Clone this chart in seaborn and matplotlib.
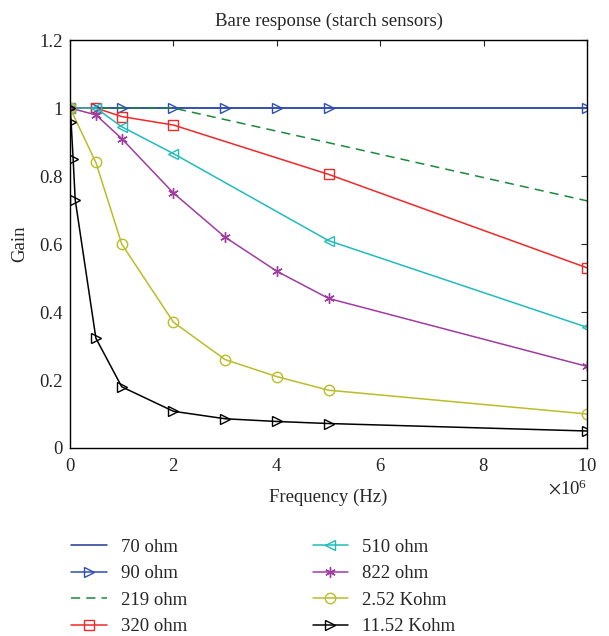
import numpy as np
import pandas as pd
import seaborn as sns
import matplotlib.pyplot as plt

# series values (frequency in Hz, gain)
f_70 = [0, 5e5, 1e6, 2e6, 3e6, 4e6, 5e6, 1e7]
g_70 = [1, 1, 1, 1, 1, 1, 1, 1]
f_90 = [0, 5e5, 1e6, 2e6, 3e6, 4e6, 5e6, 1e7]
g_90 = [1, 1, 1, 1, 1, 1, 1, 1]
f_219 = [0, 5e5, 1e6, 2e6, 3e6, 4e6, 5e6, 1e7]
g_219 = [1, 1, 1, 1, 0.966, 0.932, 0.898, 0.727]
f_320 = [0, 5e5, 1e6, 2e6, 5e6, 1e7]
g_320 = [1, 1, 0.975, 0.95, 0.805, 0.53]
f_510 = [0, 5e5, 1e6, 2e6, 5e6, 1e7]
g_510 = [1, 1, 0.945, 0.866, 0.61, 0.355]
f_822 = [0, 5e5, 1e6, 2e6, 3e6, 4e6, 5e6, 1e7]
g_822 = [1, 0.98, 0.91, 0.75, 0.62, 0.52, 0.44, 0.24]
f_252k = [0, 5e5, 1e6, 2e6, 3e6, 4e6, 5e6, 1e7]
g_252k = [1, 0.84, 0.60, 0.37, 0.26, 0.21, 0.17, 0.10]
f_1152k = [0, 2e4, 6e4, 1e5, 5e5, 1e6, 2e6, 3e6, 4e6, 5e6, 1e7]
g_1152k = [1, 0.96, 0.85, 0.73, 0.323, 0.18, 0.108, 0.086, 0.078, 0.072, 0.05]

labels = ["70 ohm", "90 ohm", "219 ohm", "320 ohm", "510 ohm", "822 ohm", "2.52 Kohm", "11.52 Kohm"]
freqs = [f_70, f_90, f_219, f_320, f_510, f_822, f_252k, f_1152k]
gains = [g_70, g_90, g_219, g_320, g_510, g_822, g_252k, g_1152k]

colors = ["#1f3a93", "#2f4fb0", "#1a8a3a", "#f02828", "#20bcbc", "#a03ca0", "#bcbc28", "#000000"]
markers = [None, ">", None, "s", "<", (6, 2, 0), "o", ">"]
styles = ["-", "-", (0, (6, 4)), "-", "-", "-", "-", "-"]

sns.set_style("white")
plt.rcParams["font.family"] = ["Liberation Serif", "DejaVu Serif"]
plt.rcParams["mathtext.fontset"] = "stix"

fig = plt.figure(figsize=(6.09, 6.36), dpi=100)
ax = fig.add_axes([0.115, 0.2956, 0.849, 0.6414])

for lab, fr, gn, c, m, ls in zip(labels, freqs, gains, colors, markers, styles):
    df = pd.DataFrame({"f": fr, "g": gn})
    sns.lineplot(data=df, x="f", y="g", ax=ax, color=c, marker=m, linestyle=ls,
                 markersize=7.5, markerfacecolor="none", markeredgecolor=c,
                 markeredgewidth=1.0, linewidth=1.1, label=lab, estimator=None,
                 sort=False)

ax.set_xlim(0, 1e7)
ax.set_ylim(0, 1.2)
ax.set_xticks(np.arange(0, 1.01e7, 2e6))
ax.set_yticks([0, 0.2, 0.4, 0.6, 0.8, 1, 1.2])
ax.set_yticklabels(["0", "0.2", "0.4", "0.6", "0.8", "1", "1.2"])
ax.ticklabel_format(axis="x", style="sci", scilimits=(6, 6), useMathText=True)
ax.tick_params(direction="in", top=True, right=True, labelsize=13.5, length=4, width=0.8)
ax.tick_params(axis="x", pad=7)
ax.tick_params(axis="y", pad=5)
ax.xaxis.get_offset_text().set_fontsize(13.5)
for s in ax.spines.values():
    s.set_linewidth(1.0)
    s.set_color("black")

ax.set_title("Bare response (starch sensors)", fontsize=13.5, pad=10)
ax.set_xlabel("Frequency (Hz)", fontsize=13.5, labelpad=10)
ax.set_ylabel("Gain", fontsize=13.5, labelpad=8)

h, l = ax.get_legend_handles_labels()
ax.legend_.remove()
fig.legend(h, l, loc="upper left", bbox_to_anchor=(0.095, 0.174), ncol=2,
           frameon=False, fontsize=13.5, handlelength=1.9, columnspacing=6.7,
           labelspacing=0.5, handletextpad=0.75, borderaxespad=0.3)

fig.savefig("out.png", dpi=100)
